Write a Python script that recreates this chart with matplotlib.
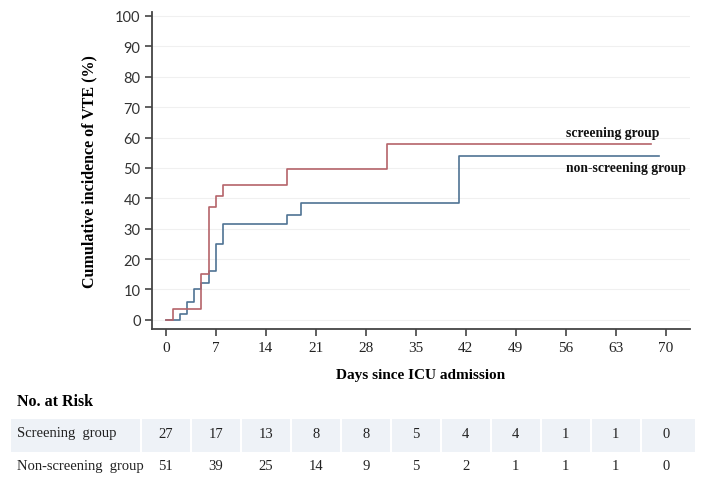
import numpy as np
import matplotlib
matplotlib.use("Agg")
import matplotlib.pyplot as plt
import matplotlib.transforms as mtransforms
from matplotlib.patches import Rectangle

# step curves: day of each step and cumulative incidence (%) after the step
screen_days = [0, 1, 5, 6, 7, 8, 17, 31, 68]
screen_vals = [0, 3.7, 15.0, 37.0, 40.7, 44.5, 49.6, 58.0, 58.0]
nonscreen_days = [0, 2, 3, 4, 5, 6, 7, 8, 17, 19, 41, 69]
nonscreen_vals = [0, 2.0, 6.0, 10.0, 12.0, 16.2, 25.0, 31.4, 34.4, 38.4, 53.8, 53.8]

risk_times = [0, 7, 14, 21, 28, 35, 42, 49, 56, 63, 70]
risk_screen = [27, 17, 13, 8, 8, 5, 4, 4, 1, 1, 0]
risk_nonscreen = [51, 39, 25, 14, 9, 5, 2, 1, 1, 1, 0]
row_labels = ["Screening  group", "Non-screening  group"]

red = "#b5646a"
blue = "#4f7394"
serif = ["Liberation Serif", "DejaVu Serif"]

W, H = 708, 481
fig = plt.figure(figsize=(W / 100, H / 100), dpi=100)
ax = fig.add_axes([151.7 / W, 1 - 330 / H, 538.3 / W, 317 / H])

ax.step(nonscreen_days, nonscreen_vals, where="post", color=blue, lw=1.2)
ax.step(screen_days, screen_vals, where="post", color=red, lw=1.2)

ax.set_xlim(-1.96, 73.4)
ax.set_ylim(-3, 101.3)
ax.set_xticks(risk_times)
ax.set_yticks(np.arange(0, 101, 10))
ax.set_xticklabels([str(t) for t in risk_times], family=serif, fontsize=11, color="#222")
ax.set_yticklabels([str(v) for v in range(0, 101, 10)], family="Lato", fontsize=10.5, color="#333")
ax.tick_params(axis="both", direction="out", length=5, width=1.2, color="#444")
ax.tick_params(axis="x", pad=4)
ax.tick_params(axis="y", pad=3)
for s in ["top", "right"]:
    ax.spines[s].set_visible(False)
for s in ["left", "bottom"]:
    ax.spines[s].set_color("#444")
    ax.spines[s].set_linewidth(1.3)
ax.yaxis.grid(True, color="#f0f0f0", lw=0.8)
ax.set_axisbelow(True)

ax.text(56.0, 61.5, "screening group", family=serif, fontweight="bold", fontsize=9.8, va="center", color="#111")
ax.text(56.0, 50.3, "non-screening group", family=serif, fontweight="bold", fontsize=9.8, va="center", color="#111")

ax.set_xlabel("Days since ICU admission", family=serif, fontweight="bold", fontsize=11, labelpad=10)
ax.set_ylabel("Cumulative incidence of VTE (%)", family=serif, fontweight="bold", fontsize=11.5, labelpad=13)

# number at risk table
fig.text(17 / W, 1 - 402 / H, "No. at Risk", family=serif, fontweight="bold", fontsize=11.5, va="center")

trans = mtransforms.blended_transform_factory(ax.transData, fig.transFigure)
row1_top, row1_bot = 1 - 420 / H, 1 - 453 / H
fig.patches.append(Rectangle((11 / W, row1_bot), (695 - 11) / W, row1_top - row1_bot,
                             transform=fig.transFigure, facecolor="#eef2f7", edgecolor="none", zorder=0))
for t in risk_times:
    fig.add_artist(plt.Line2D([t - 3.5, t - 3.5], [row1_bot, row1_top], transform=trans, color="white", lw=1.5))

y1, y2 = 1 - 434 / H, 1 - 467 / H
fig.text(17 / W, y1, row_labels[0], family=serif, fontsize=10.5, va="center", color="#222")
fig.text(17 / W, y2, row_labels[1], family=serif, fontsize=10.5, va="center", color="#222")
for t, a, b in zip(risk_times, risk_screen, risk_nonscreen):
    fig.text(t, y1, str(a), transform=trans, family=serif, fontsize=10.5, ha="center", va="center", color="#222")
    fig.text(t, y2, str(b), transform=trans, family=serif, fontsize=10.5, ha="center", va="center", color="#222")

fig.savefig("out.png", dpi=100)
